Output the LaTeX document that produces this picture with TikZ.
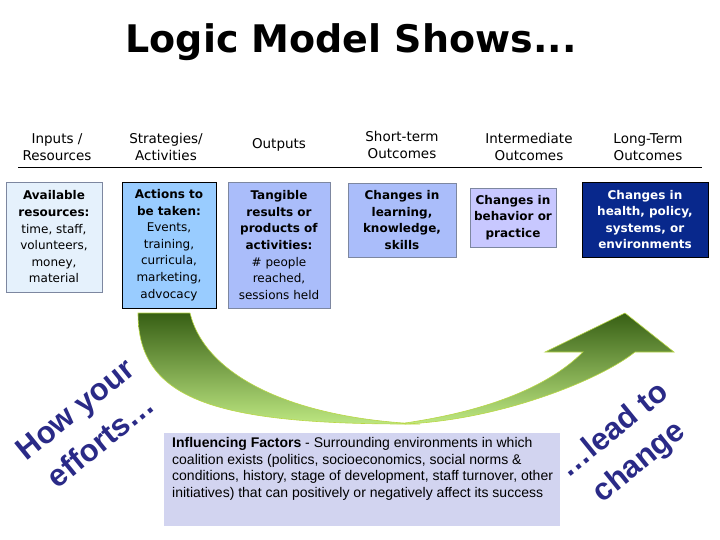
\documentclass[tikz,border=0pt]{standalone}
\usepackage{fontspec}
\setmainfont{DejaVu Sans}
\newfontfamily\arialf{Liberation Sans}
\definecolor{navytxt}{RGB}{42,42,135}
\definecolor{fillA}{RGB}{229,241,252}
\definecolor{fillB}{RGB}{153,204,255}
\definecolor{fillC}{RGB}{170,189,250}
\definecolor{fillD}{RGB}{200,200,255}
\definecolor{fillE}{RGB}{8,40,140}
\definecolor{fillF}{RGB}{210,212,240}
\definecolor{edgeG}{RGB}{125,135,160}
\definecolor{grDark}{RGB}{55,95,20}
\definecolor{grLight}{RGB}{190,232,130}
\definecolor{grEdge}{RGB}{185,215,70}
\begin{document}
\begin{tikzpicture}[x=1pt,y=-1pt,
  hdr/.style={align=center,font=\fontsize{13.5}{16.5}\selectfont,inner sep=0pt},
  box/.style={align=center,font=\fontsize{12}{16.6}\selectfont,inner sep=0pt,line width=0.8pt},
  rot/.style={align=center,text=navytxt,font=\arialf\bfseries\fontsize{31}{41}\selectfont,inner sep=0pt},
  arrowpart/.style={top color=grDark,bottom color=grLight,draw=grEdge,line width=0.6pt}]
\useasboundingbox (0,0) rectangle (720,540);

% title
\node[anchor=base,inner sep=0pt,font=\bfseries\fontsize{38}{38}\selectfont] (title) at (351,53) {Logic Model Shows...};

% headers
\node[hdr] (h1) at (57,147) {Inputs /\\Resources};
\node[hdr] (h2) at (166,147) {Strategies/\\Activities};
\node[hdr] (h3) at (279,145) {Outputs};
\node[hdr] (h4) at (402,145) {Short-term\\Outcomes};
\node[hdr] (h5) at (529,147) {Intermediate\\Outcomes};
\node[hdr] (h6) at (648,147) {Long-Term\\Outcomes};
\coordinate (ruleL) at (18,168);
\coordinate (ruleR) at (702,168);
\draw[line width=1pt] (ruleL) -- (ruleR);

% boxes
\node[box,draw=edgeG,fill=fillA,minimum width=96pt,minimum height=110pt] (b1) at (54,237)
  {\textbf{Available}\\\textbf{resources:}\\time, staff,\\volunteers,\\money,\\material};
\node[box,draw=black,fill=fillB,minimum width=94pt,minimum height=126pt] (b2) at (169,245)
  {\textbf{Actions to}\\\textbf{be taken:}\\Events,\\training,\\curricula,\\marketing,\\advocacy};
\node[box,draw=edgeG,fill=fillC,minimum width=102pt,minimum height=126pt] (b3) at (279,245)
  {\textbf{Tangible}\\\textbf{results or}\\\textbf{products of}\\\textbf{activities:}\\\# people\\reached,\\sessions held};
\node[box,draw=edgeG,fill=fillC,minimum width=108pt,minimum height=74pt,font=\bfseries\fontsize{12}{16.6}\selectfont] (b4) at (402,220)
  {Changes in\\learning,\\knowledge,\\skills};
\node[box,draw=edgeG,fill=fillD,minimum width=86pt,minimum height=59pt,font=\bfseries\fontsize{12}{16.6}\selectfont] (b5) at (513,217.5)
  {Changes in\\behavior or\\practice};
\node[box,draw=black,fill=fillE,text=white,minimum width=126pt,minimum height=75pt,font=\bfseries\fontsize{12}{16.6}\selectfont] (b6) at (645,219.5)
  {Changes in\\health, policy,\\systems, or\\environments};

% influencing factors
\node[fill=fillF,minimum width=396pt,minimum height=93pt,inner sep=0pt] (inf) at (362,479.5) {};
\node[anchor=north west,align=left,inner sep=0pt,font=\arialf\fontsize{14}{16.7}\selectfont] (inftxt) at (172,437)
  {\textbf{Influencing Factors} - Surrounding environments in which\\coalition exists (politics, socioeconomics, social norms \&\\conditions, history, stage of development, staff turnover, other\\initiatives) that can positively or negatively affect its success};

% curved arrow
\shade[arrowpart] (138,313) .. controls (138,400) and (215,425) .. (420,424)
  .. controls (290,418) and (205,375) .. (190,313) -- cycle;
\shade[arrowpart] (405,424) .. controls (500,420) and (600,380) .. (635,352)
  -- (674,352) -- (625,313) -- (545,352) -- (583,352)
  .. controls (545,390) and (480,412) .. (405,423) -- cycle;

% rotated texts
\node[rot,rotate=39] (howtxt) at (88,425) {How your\\efforts…};
\node[rot,rotate=39] (leadtxt) at (627,447) {…lead to\\change};
\end{tikzpicture}
\end{document}
